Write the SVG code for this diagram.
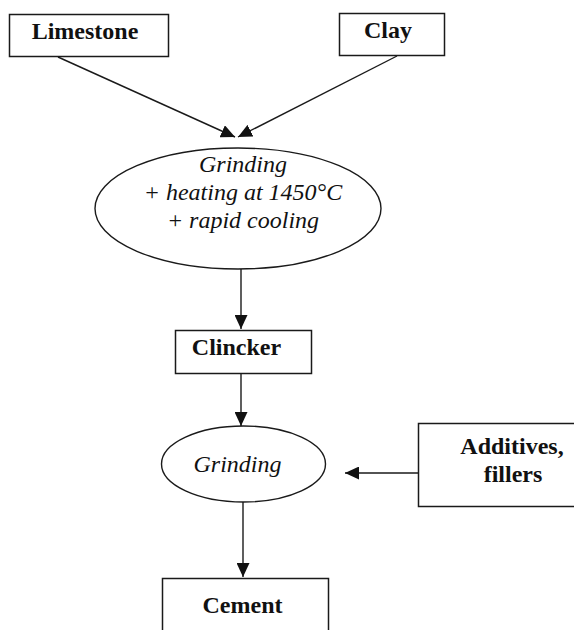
<svg xmlns="http://www.w3.org/2000/svg" width="574" height="630" viewBox="0 0 574 630">
<style>
.box{fill:#fff;stroke:#1a1a1a;stroke-width:1.5}
.ell{fill:#fff;stroke:#1a1a1a;stroke-width:1.4}
.b{font-family:"Liberation Serif","Times New Roman",serif;font-weight:bold;font-size:24px;fill:#111;text-anchor:middle}
.i{font-family:"Liberation Serif","Times New Roman",serif;font-style:italic;font-size:24px;fill:#111;text-anchor:middle}
.c{fill:none;stroke:#1a1a1a;stroke-width:1.4}
</style>
<defs>
<marker id="ah" markerUnits="userSpaceOnUse" markerWidth="15" markerHeight="13" refX="14" refY="6.5" orient="auto">
<path d="M0,0 L14,6.5 L0,13 z" fill="#111"/>
</marker>
</defs>
<rect width="574" height="630" fill="#fff"/>
<g id="limestone"><rect class="box" x="9.5" y="14.5" width="159" height="42"/><text class="b" x="85" y="39">Limestone</text></g>
<g id="clay"><rect class="box" x="339.5" y="13.5" width="105" height="42"/><text class="b" x="388" y="38">Clay</text></g>
<g id="grinding1"><ellipse class="ell" cx="238" cy="208.5" rx="143" ry="60.5"/><text class="i" x="243" y="172">Grinding</text><text class="i" x="243" y="200">+ heating at 1450°C</text><text class="i" x="243" y="228">+ rapid cooling</text></g>
<g id="clincker"><rect class="box" x="175.5" y="330.5" width="136" height="43"/><text class="b" x="236.5" y="355">Clincker</text></g>
<g id="grinding2"><ellipse class="ell" cx="243.5" cy="464" rx="82" ry="38"/><text class="i" x="237.5" y="472">Grinding</text></g>
<g id="additives"><rect class="box" x="418.5" y="423.5" width="160" height="83"/><text class="b" x="512" y="454">Additives,</text><text class="b" x="513" y="482">fillers</text></g>
<g id="cement"><rect class="box" x="162.5" y="578.5" width="166" height="60"/><text class="b" x="242.5" y="613">Cement</text></g>
<g id="connectors">
<line class="c" x1="58" y1="57" x2="235" y2="137" marker-end="url(#ah)"/>
<line class="c" x1="397" y1="56" x2="238" y2="137" marker-end="url(#ah)"/>
<line class="c" x1="241" y1="269" x2="241" y2="329" marker-end="url(#ah)"/>
<line class="c" x1="241" y1="374" x2="241" y2="426" marker-end="url(#ah)"/>
<line class="c" x1="418" y1="473" x2="345" y2="473" marker-end="url(#ah)"/>
<line class="c" x1="243" y1="502" x2="243" y2="577" marker-end="url(#ah)"/>
</g>
</svg>
